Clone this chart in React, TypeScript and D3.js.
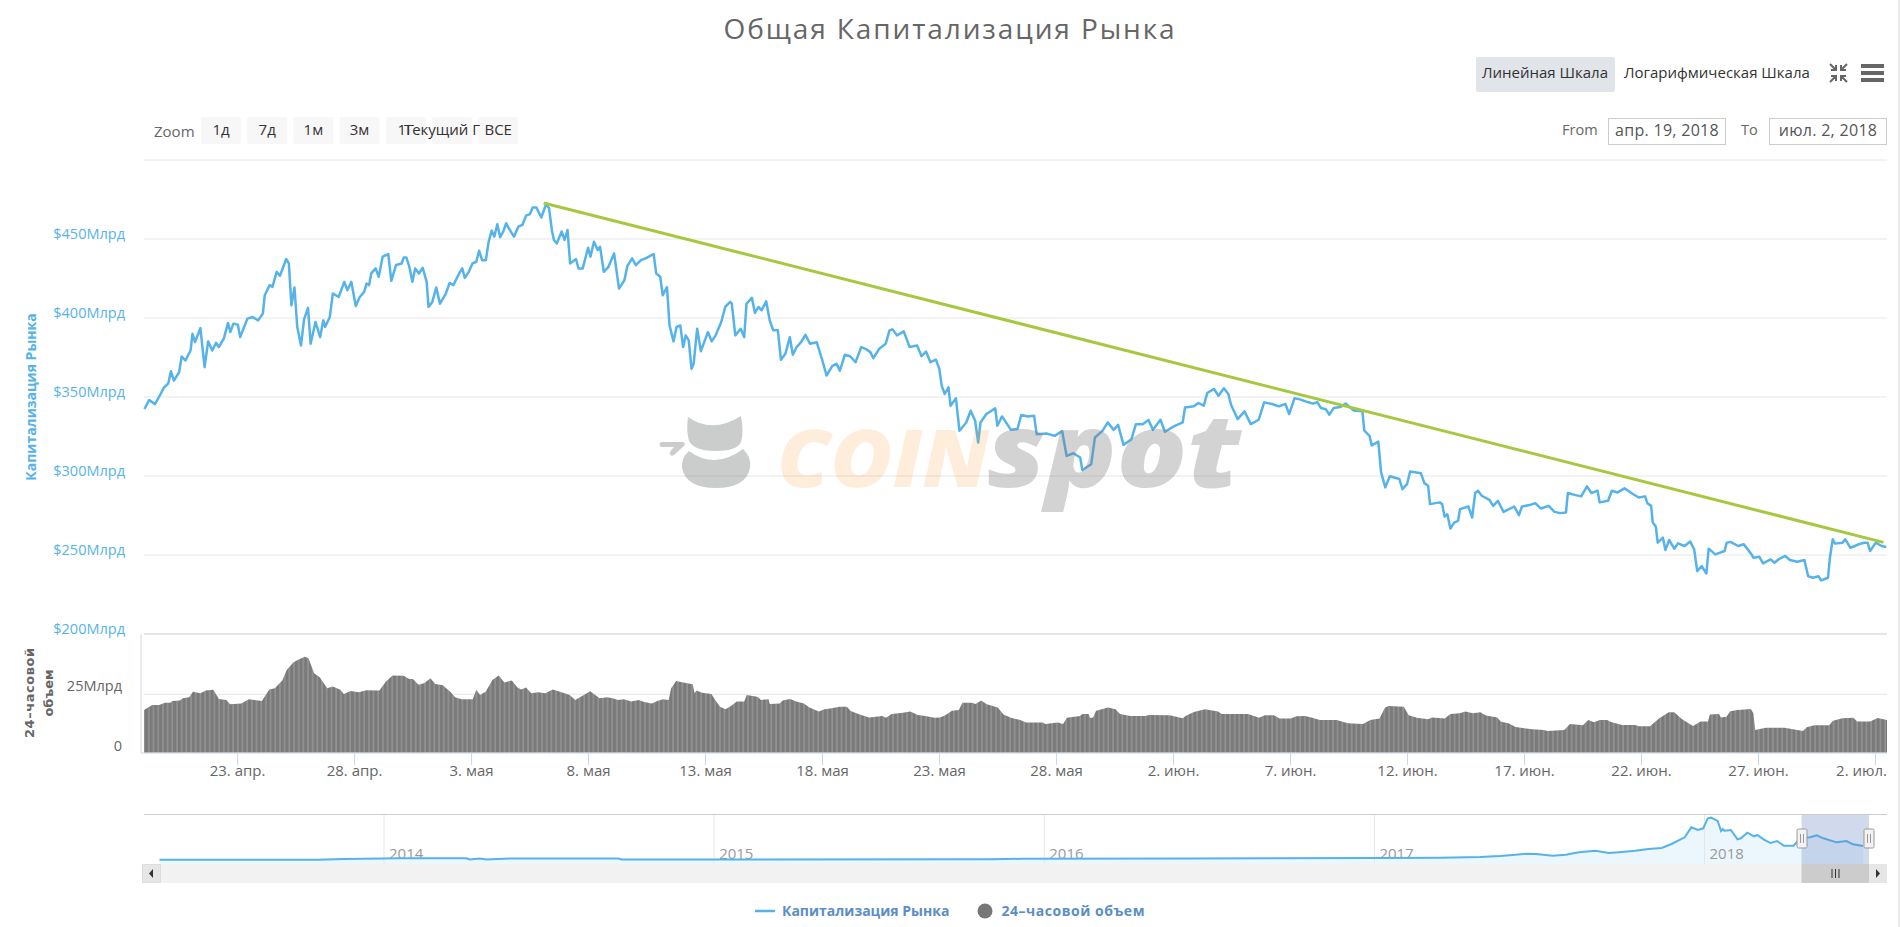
import * as d3 from "d3";

// [days since 19 Apr 2018, market cap in $bn]
const capPoints: [number, number][] = [
  [0.02,342.4],[0.22,348.1],[0.47,345.5],[0.71,351.9],[0.84,355.7],[1.04,358.7],[1.15,366.3],[1.28,360.4],[1.5,365.7],[1.61,375.6],
  [1.77,373.1],[1.99,379.4],[2.07,390],[2.18,384.7],[2.41,393.6],[2.59,368.9],[2.74,385.2],[2.92,379.4],[3.08,384.3],[3.2,381.6],
  [3.41,386.9],[3.59,396.8],[3.69,391.1],[3.82,396.4],[4.01,395.8],[4.11,387.9],[4.28,394.3],[4.42,399.6],[4.64,400.6],[4.88,398.5],
  [5.08,402.8],[5.16,414.4],[5.37,420.8],[5.49,419.7],[5.67,429.2],[5.81,426.7],[6.08,437.3],[6.19,434.5],[6.3,408],[6.43,419.3],
  [6.55,394.3],[6.71,382.6],[6.84,399.1],[7.01,406.4],[7.12,383.7],[7.33,397.5],[7.53,387.9],[7.66,398.5],[7.74,394.3],[7.94,400.6],
  [8.07,415.5],[8.32,413.3],[8.56,422.9],[8.69,417.6],[8.86,422.9],[9.05,407.6],[9.22,413.3],[9.41,416.5],[9.51,421.8],[9.62,420.8],
  [9.71,428.2],[9.9,431.4],[10.03,426.1],[10.2,438.8],[10.44,440.5],[10.57,423.5],[10.77,433.5],[11.01,434.5],[11.1,438.3],[11.21,438.3],
  [11.34,432.4],[11.47,422.9],[11.59,431.4],[11.75,428.2],[11.91,431.8],[12.08,422.9],[12.16,407],[12.32,410.2],[12.49,419.3],[12.65,409.1],
  [12.9,415.5],[13.06,422.2],[13.22,420.8],[13.47,428.2],[13.6,431.4],[13.71,425.4],[13.88,429.2],[14.04,434.5],[14.2,435.6],[14.32,442.6],
  [14.45,436.6],[14.61,436.6],[14.73,448.3],[14.86,455.3],[14.97,451.5],[15.1,459.3],[15.22,451.1],[15.35,454.7],[15.48,460],[15.59,456.8],
  [15.81,451.5],[16,457.8],[16.17,458.9],[16.33,464.8],[16.49,465.7],[16.61,469.9],[16.77,469.9],[16.98,463.6],[17.18,472],[17.31,469.5],
  [17.44,454.7],[17.52,449.4],[17.64,447.2],[17.85,454.7],[17.97,449.4],[18.1,455.7],[18.21,434.5],[18.46,437.3],[18.57,431.4],[18.75,431.4],
  [18.98,444.5],[19.08,438.8],[19.23,448.3],[19.39,443],[19.49,445.1],[19.65,429.2],[19.85,432.4],[20.09,440.9],[20.3,418.6],[20.53,423.9],
  [20.66,433],[20.86,437.7],[21.02,433.5],[21.24,436.6],[21.48,438.1],[21.78,440.5],[21.89,428.2],[22.06,426.1],[22.17,414.4],[22.35,419.5],
  [22.46,395.3],[22.63,385.2],[22.76,394.3],[22.92,395.3],[23.04,381.6],[23.15,389],[23.28,385.8],[23.4,367.8],[23.49,371],[23.64,393.2],
  [23.8,379],[24.1,391.1],[24.26,385.2],[24.43,389],[24.67,397.5],[24.84,407],[25.05,410.2],[25.12,409.1],[25.27,389],[25.5,393.2],
  [25.65,387.9],[25.75,409.1],[25.98,412.7],[26.11,403.2],[26.26,407],[26.4,404.9],[26.59,410.6],[26.74,398.5],[26.89,392.2],[27.09,392.2],
  [27.22,373.5],[27.41,377.3],[27.6,387.9],[27.73,376.7],[27.89,381.6],[28.08,384.7],[28.27,389.4],[28.46,383.7],[28.75,384.7],[28.97,374.2],
  [29.17,363.6],[29.41,369.5],[29.6,371],[29.74,366.7],[29.95,376.7],[30.18,375.8],[30.41,372],[30.65,381.6],[30.88,380.1],[31.04,378.4],
  [31.17,374.6],[31.42,380.5],[31.7,383.7],[31.86,392.2],[31.99,392.8],[32.18,389],[32.47,391.5],[32.72,381.6],[33.04,382.6],[33.23,375.8],
  [33.42,378.8],[33.61,372],[33.84,373.7],[33.99,367.8],[34.09,357.2],[34.22,351.9],[34.38,356.1],[34.47,344.5],[34.7,349.2],[34.85,328.6],
  [35.14,333.9],[35.33,341.3],[35.52,335],[35.65,321.2],[35.75,333.9],[36,339.2],[36.38,342.8],[36.47,331.8],[36.67,337.7],[37.05,329.2],
  [37.33,329.7],[37.49,338.6],[37.77,337.7],[38.04,338.1],[38.15,326.5],[38.57,326.9],[38.92,325.4],[39.24,328.4],[39.43,312.7],[39.72,314.4],
  [40.01,311.7],[40.1,303.8],[40.48,307.4],[40.64,324.4],[40.96,328.6],[41.19,333.9],[41.44,329.2],[41.63,332.4],[41.86,319.7],[42.2,323.3],
  [42.39,332.8],[42.68,332.8],[42.93,335.4],[43.12,329.2],[43.44,335.6],[43.63,328],[44.01,331.4],[44.39,333.9],[44.49,343.4],[44.87,344.1],
  [45.06,346.2],[45.29,344.5],[45.44,352.5],[45.73,355.1],[45.92,350.8],[46.15,355.5],[46.34,351.9],[46.46,344.9],[46.74,336],[47.03,340.9],
  [47.3,332.8],[47.64,335.6],[47.87,346.6],[48.21,345.6],[48.5,344.1],[48.78,345.6],[48.94,339.2],[49.17,349.2],[49.4,348.5],[49.73,346.8],
  [49.97,345.8],[50.14,346.8],[50.3,343],[50.51,342.2],[50.66,338.8],[50.84,343],[51.12,343.6],[51.36,345.8],[51.69,341.5],[52.07,340.9],
  [52.15,328.8],[52.38,325.2],[52.47,319.3],[52.75,321.8],[52.87,302.3],[53.05,292.8],[53.24,299.8],[53.65,298.1],[53.78,291.7],[53.98,294.9],
  [54.11,302.8],[54.57,301.7],[54.72,295.5],[54.88,293.8],[54.96,282.2],[55.37,283.3],[55.48,282.2],[55.58,274.4],[55.7,275.8],[55.83,266.7],
  [55.99,270.5],[56.16,271.6],[56.24,279],[56.6,280.7],[56.76,273.7],[56.89,289.2],[57.01,290.6],[57.17,287.5],[57.5,284.9],[57.66,281.1],
  [57.86,284.3],[58.1,277.3],[58.56,280.7],[58.76,275.2],[58.89,280.7],[59.21,281.6],[59.46,282.8],[59.7,279.4],[60.03,281.1],[60.28,277.3],
  [60.52,276.5],[60.77,276.9],[60.85,289.2],[61.18,287.9],[61.42,287.1],[61.67,293.4],[61.86,289.2],[62.12,290.7],[62.21,283.3],[62.57,284.3],
  [62.73,290.7],[62.98,289.6],[63.27,292.2],[63.63,288.6],[63.88,286.4],[64.15,287.1],[64.25,282.8],[64.41,281.1],[64.48,270.5],[64.61,268],
  [64.69,257.8],[64.91,261],[65.02,253.2],[65.18,259.5],[65.4,254],[65.56,257.4],[65.84,255.7],[66.08,258.5],[66.25,253.6],[66.38,239.8],
  [66.57,243],[66.77,238.3],[66.87,254],[67.15,250.4],[67.55,252.5],[67.64,257.8],[67.8,258.3],[68.13,255.7],[68.37,256.8],[68.7,250.4],
  [68.78,248.3],[69.03,248.9],[69.19,244.7],[69.52,247.2],[69.68,245.1],[69.85,247.2],[70.14,249.4],[70.34,246.8],[70.66,245.7],[70.96,246.8],
  [71.12,236.6],[71.32,235.6],[71.56,236.6],[71.68,233.9],[71.97,235.6],[72.05,248.3],[72.17,259.9],[72.27,257.2],[72.59,257.8],[72.71,259.9],
  [72.92,254.6],[73.12,255.7],[73.28,256.8],[73.52,257.8],[73.66,257.8],[73.77,252.5],[74.01,257.8],[74.26,255.7],[74.46,255.1],
];

// [days since 19 Apr 2018, 24h volume in $bn]
const volPoints: [number, number][] = [
  [0,18.3],[0.17,19.4],[0.36,20.4],[0.65,20.4],[0.89,21.4],[1.13,21.4],[1.21,22.1],[1.53,22.3],[1.66,23.3],[1.93,23.7],
  [2.09,26.1],[2.41,25.4],[2.64,26.6],[2.96,26.9],[3.2,23],[3.52,22.6],[3.68,20.7],[4.16,21.1],[4.48,22.9],[5.04,22.1],
  [5.2,24.7],[5.36,27.1],[5.59,27.6],[5.91,30.9],[6.1,35.4],[6.39,38.7],[6.63,40],[6.87,41.1],[7.03,40.4],[7.27,34],
  [7.51,32.3],[7.83,27.6],[8.07,28.3],[8.39,26.9],[8.54,25.1],[8.83,26.4],[9.18,25.9],[9.5,26.7],[10.06,26.6],[10.33,30.4],
  [10.62,33.1],[11.1,32.9],[11.33,31.6],[11.49,31.6],[11.73,29.1],[11.97,29.7],[12.24,31.9],[12.45,29.4],[12.77,28.9],[13.09,26.1],
  [13.3,23.7],[13.57,22.9],[14.05,22.9],[14.2,26.9],[14.36,24.7],[14.6,26.1],[14.89,31.1],[15.16,33],[15.4,30.1],[15.72,30.9],
  [15.96,27.9],[16.12,27.1],[16.33,27.9],[16.55,25.4],[16.84,25.9],[17.15,25.4],[17.47,27.1],[17.71,26.3],[18.19,24.7],[18.43,22.6],
  [18.67,24],[19.07,26.3],[19.47,23.3],[19.79,23.7],[20.02,23.3],[20.26,22.6],[20.5,22.9],[20.82,21.9],[21.14,22.6],[21.38,21.7],
  [21.7,21.1],[21.94,22.1],[22.18,22.9],[22.42,22.6],[22.53,27.6],[22.74,30.7],[23.05,30.1],[23.45,29.3],[23.53,25.4],[23.61,26.6],
  [23.85,25.7],[24.25,25.1],[24.41,22.6],[24.62,19.7],[24.85,18.6],[25.09,20],[25.33,21.9],[25.65,21.9],[25.76,24.7],[26.21,24],
  [26.37,22.6],[26.69,22.9],[26.74,20.9],[27.17,21.1],[27.29,22.3],[27.61,23],[27.88,21.9],[28.2,21.1],[28.44,19.4],[28.84,17.6],
  [29.08,18.6],[29.4,19],[29.72,19.7],[30.04,19.7],[30.2,17.9],[30.59,16.4],[30.99,15.1],[31.55,15.7],[31.71,15],[31.95,16.6],
  [32.43,17.1],[32.75,17.6],[33.07,16.1],[33.39,15.7],[33.78,15],[34.02,15.1],[34.26,16.1],[34.53,18],[34.82,18.3],[34.98,21.4],
  [35.38,21.4],[35.54,20.9],[35.78,22.3],[36.02,20.7],[36.49,19.4],[36.73,16.4],[37.05,15],[37.45,14],[37.69,12.9],[38.41,12.9],
  [38.52,12.3],[39.05,12.9],[39.28,12.3],[39.44,15],[40,15.7],[40.11,16.6],[40.37,16.6],[40.43,14.9],[40.56,15.1],[40.69,18],
  [41.2,19.3],[41.52,18.6],[41.71,16.6],[42.16,15.7],[42.79,15.7],[42.95,16.1],[43.83,16],[44.39,14.7],[44.55,15.9],[44.87,17.4],
  [45.34,18.6],[45.9,17.6],[46.06,16.6],[47.18,16.6],[47.66,15],[47.9,16],[48.29,16],[48.53,14.6],[49.01,14.6],[49.25,15.6],
  [49.62,15.7],[49.93,15],[50.25,14],[50.97,14],[51.45,12.6],[52.09,12.3],[52.41,14],[52.8,14.6],[53.04,19.4],[53.2,20],
  [53.84,19.7],[54.05,16],[54.4,15],[54.88,14.3],[55.04,15.1],[55.59,14.6],[55.83,16.6],[56.23,16.9],[56.47,17.6],[56.79,16.9],
  [57.11,17.3],[57.35,15.9],[57.83,15.1],[57.99,13.3],[58.31,12.6],[58.62,11],[59.34,10],[59.82,9.7],[59.98,9.3],[60.7,9.7],
  [60.94,12.3],[61.49,11.7],[61.73,14],[61.97,13],[62.21,14],[62.53,14],[62.69,13.1],[63.17,11.9],[63.73,11.9],[63.89,11.3],
  [64.36,11.3],[64.76,14.7],[65.16,17.3],[65.4,17.3],[65.72,14.4],[66.2,11.4],[66.52,13.4],[66.84,13.4],[66.92,16.3],[67.31,16.6],
  [67.39,15.1],[67.63,15.4],[67.79,17.7],[68.11,18.3],[68.67,18.7],[68.78,16.9],[68.86,9.7],[69.31,10.7],[70.11,10.7],[70.9,9.3],
  [71.06,10.9],[71.38,11.7],[72.02,11.7],[72.18,13.7],[72.58,14.7],[73.05,15],[73.21,13.4],[73.77,13.4],[74.09,14.9],[74.49,14],
];

// navigator series: [year, market cap in $bn]
const navPoints: [number, number][] = [
  [2013.32,3],[2013.8,6],[2013.88,19],[2014.05,33],[2014.25,33],[2014.26,10],[2014.29,29],[2014.31,10],[2014.38,29],[2014.71,29],
  [2014.72,10],[2015.84,13],[2015.93,23],[2016.45,27],[2017,39],[2017.2,44],[2017.32,58],[2017.38,77],[2017.42,97],[2017.46,122],
  [2017.49,116],[2017.54,84],[2017.58,103],[2017.62,148],[2017.67,180],[2017.71,135],[2017.75,155],[2017.79,180],[2017.83,213],[2017.87,232],
  [2017.9,309],[2017.94,438],[2017.96,631],[2017.98,580],[2017.996,612],[2018.01,805],[2018.02,818],[2018.04,754],[2018.05,560],[2018.055,599],
  [2018.06,567],[2018.08,580],[2018.1,399],[2018.11,419],[2018.13,528],[2018.15,457],[2018.16,483],[2018.18,393],[2018.2,328],[2018.22,367],
  [2018.24,277],[2018.27,277],[2018.29,419],[2018.32,438],[2018.34,477],[2018.36,419],[2018.4,341],[2018.43,367],[2018.45,303],[2018.48,270],
];

const trendPoints: [number, number][] = [[17.08, 472.8], [74.34, 258]];

const capTicks = [500, 450, 400, 350, 300, 250, 200];
const volTicks = [25, 0];
const dayTicks = [4, 9, 14, 19, 24, 29, 34, 39, 44, 49, 54, 59, 64, 69, 74];
const dayLabels = ["23. апр.", "28. апр.", "3. мая", "8. мая", "13. мая", "18. мая", "23. мая", "28. мая", "2. июн.", "7. июн.", "12. июн.", "17. июн.", "22. июн.", "27. июн.", "2. июл."];
const navYears = [2014, 2015, 2016, 2017, 2018];
const zoomLabels = ["1д", "7д", "1м", "3м", "1Г", "Текущий Г", "ВСЕ"];

const FONT = "'Open Sans', sans-serif";
const BLUE = "#55b3e9";
const LEFT = 144;
const RIGHT = 1887;

const x = d3.scaleLinear().domain([0, 74.49]).range([LEFT, RIGHT]);
const yCap = d3.scaleLinear().domain([200, 500]).range([634, 160]);
const yVol = d3.scaleLinear().domain([0, 25]).range([752.7, 694.3]);
const xNav = d3.scaleLinear().domain([2014, 2018]).range([384, 1704.5]);
const yNav = d3.scaleLinear().domain([0, 850]).range([860, 816]);

const capLine = d3.line<[number, number]>().x((d) => x(d[0])).y((d) => yCap(d[1]));
const volArea = d3.area<[number, number]>().x((d) => x(d[0])).y0(yVol(0)).y1((d) => yVol(d[1]));
const navLine = d3.line<[number, number]>().x((d) => xNav(d[0])).y((d) => yNav(d[1]));
const navArea = d3.area<[number, number]>().x((d) => xNav(d[0])).y0(864).y1((d) => yNav(d[1]));

const Handle = ({ cx }: { cx: number }) => (
  <g>
    <rect x={cx - 5} y={829} width={10} height={19} rx={1.5} fill="#f2f2f2" stroke="#999" strokeWidth={1} />
    <path d={`M${cx - 1.5} 834V843M${cx + 1.5} 834V843`} stroke="#999" strokeWidth={1} />
  </g>
);

export default function App() {
  return (
    <svg width={1900} height={927} style={{ position: "absolute", left: 0, top: 0, display: "block", fontFamily: FONT }}>
      <defs>
        <pattern id="volStripes" patternUnits="userSpaceOnUse" width={4.68} height={10}>
          <rect width={4.68} height={10} fill="#7a7a7a" />
          <rect x={3} width={1.68} height={10} fill="#929292" />
        </pattern>
      </defs>
      <rect width={1900} height={927} fill="#fff" />
      <rect x={1898} width={2} height={927} fill="#ececec" />

      <text x={950} y={39} textAnchor="middle" fontSize={28} letterSpacing={1.9} fill="#666">Общая Капитализация Рынка</text>

      {/* scale switch + icons */}
      <rect x={1476} y={57} width={139} height={35} rx={2} fill="#e1e4e9" />
      <text x={1482} y={78} fontSize={15} fill="#333">Линейная Шкала</text>
      <text x={1624} y={78} fontSize={15} fill="#333">Логарифмическая Шкала</text>
      <path d="M1830 64L1836 70M1836 65V70H1831M1847 64L1841 70M1841 65V70H1846M1830 82L1836 76M1836 81V76H1831M1847 82L1841 76M1841 81V76H1846" stroke="#666" strokeWidth={2} fill="none" />
      <path d="M1861 64h23v4h-23zM1861 71h23v4h-23zM1861 78h23v4h-23z" fill="#666" />

      {/* range selector */}
      <text x={154} y={137} fontSize={15} fill="#666">Zoom</text>
      {zoomLabels.map((d, i) => (
        <rect key={d} x={201 + i * 46.2} y={117} width={40} height={27} rx={2} fill="#f7f7f7" />
      ))}
      {zoomLabels.map((d, i) => (
        <text key={d} x={d === "Текущий Г" ? 442 : 221 + i * 46.2} y={135} textAnchor="middle" fontSize={15} fill="#333">{d}</text>
      ))}
      <text x={1562} y={135} fontSize={14.5} fill="#666">From</text>
      <rect x={1608.5} y={118.5} width={117} height={26} fill="#fff" stroke="#ccc" />
      <text x={1667} y={136} textAnchor="middle" fontSize={16} letterSpacing={0.3} fill="#555">апр. 19, 2018</text>
      <text x={1741} y={135} fontSize={14.5} fill="#666">To</text>
      <rect x={1769.5} y={118.5} width={117} height={26} fill="#fff" stroke="#ccc" />
      <text x={1828} y={136} textAnchor="middle" fontSize={16} letterSpacing={0.3} fill="#555">июл. 2, 2018</text>

      {/* grid */}
      {capTicks.map((t) => (
        <line key={t} x1={LEFT} x2={RIGHT} y1={yCap(t)} y2={yCap(t)} stroke="#e6e6e6" strokeWidth={t === 200 ? 2 : 1} />
      ))}
      <line x1={LEFT} x2={RIGHT} y1={yVol(25)} y2={yVol(25)} stroke="#e6e6e6" />

      {capTicks.slice(1).map((t) => (
        <text key={t} x={125} y={yCap(t)} textAnchor="end" fontSize={14.5} fill={BLUE}>{`$${t}Млрд`}</text>
      ))}
      <text transform="translate(36,397) rotate(-90)" textAnchor="middle" fontSize={14} fontWeight={700} fill={BLUE}>Капитализация Рынка</text>

      {/* volume panel */}
      <line x1={141} x2={141} y1={634} y2={753} stroke="#ccd6eb" />
      <path d={volArea(volPoints) ?? ""} fill="url(#volStripes)" />
      <line x1={141} x2={RIGHT} y1={753} y2={753} stroke="#ccd6eb" />
      {volTicks.map((t) => (
        <text key={t} x={122} y={t === 0 ? 751 : yVol(t) - 3} textAnchor="end" fontSize={14.5} fill="#666">{t === 0 ? "0" : `${t}Млрд`}</text>
      ))}
      <g transform="translate(33.5,693) rotate(-90)" fontFamily="'DejaVu Sans', sans-serif" fontSize={13} fontWeight={700} fill="#666" textAnchor="middle">
        <text textLength={90}>24–часовой</text>
        <text y={19}>объем</text>
      </g>
      {dayTicks.map((d, i) => (
        <g key={d}>
          <line x1={x(d)} x2={x(d)} y1={753} y2={765} stroke="#ccd6eb" />
          <text x={d === 74 ? RIGHT : x(d)} y={776} textAnchor={d === 74 ? "end" : "middle"} fontSize={15} fill="#666">{dayLabels[i]}</text>
        </g>
      ))}

      {/* series */}
      <path d={capLine(capPoints) ?? ""} fill="none" stroke={BLUE} strokeWidth={2.5} strokeLinejoin="round" />
      <path d={capLine(trendPoints) ?? ""} fill="none" stroke="#a5c83f" strokeWidth={3} />

      {/* watermark */}
      <g>
        <path d="M688 417Q712 434 741 416Q744 432 741 442Q737 451 716 451Q694 451 689 441Q686 430 688 417Z" fill="#70757599" fillOpacity={0.6} />
        <path d="M689 451Q715 470 743 449Q752 458 750 468Q746 488 716 488Q686 488 682 468Q681 458 689 451Z" fill="#70757599" fillOpacity={0.6} />
        <path d="M661 442H683Q686 443 684 446L674 455Q671 457 670 454Q669 452 674 447H661Q658 444 661 442Z" fill="#70757599" fillOpacity={0.6} />
        <text x={777} y={487} fontSize={80} fontWeight={800} fontStyle="italic" fill="#faa546" fillOpacity={0.2} textLength={212} lengthAdjust="spacingAndGlyphs">COIN</text>
        <text x={987} y={487} fontSize={103} fontWeight={800} fontStyle="italic" fill="#787878" fillOpacity={0.33} textLength={254} lengthAdjust="spacingAndGlyphs">spot</text>
      </g>

      {/* navigator */}
      <path d={navArea(navPoints) ?? ""} fill={BLUE} fillOpacity={0.11} />
      {navYears.map((yr) => (
        <g key={yr}>
          <line x1={xNav(yr)} x2={xNav(yr)} y1={814} y2={864} stroke="#e6e6e6" />
          <text x={xNav(yr) + 5} y={859} fontSize={15} fill="#999">{yr}</text>
        </g>
      ))}
      <path d={navLine(navPoints) ?? ""} fill="none" stroke={BLUE} strokeWidth={2} />
      <line x1={LEFT} x2={RIGHT} y1={814.5} y2={814.5} stroke="#ccc" />
      <rect x={1801.5} y={815} width={67.5} height={49} fill="#6685c2" fillOpacity={0.3} />

      {/* scrollbar */}
      <rect x={142} y={864} width={1745} height={19} fill="#f2f2f2" />
      <rect x={142.5} y={864.5} width={18} height={18} fill="#e6e6e6" stroke="#ddd" />
      <path d="M153 869L149 873.5L153 878Z" fill="#333" />
      <rect x={1801.5} y={864} width={67.5} height={19} fill="#ccc" />
      <path d="M1832 869V878M1835.5 869V878M1839 869V878" stroke="#333" />
      <rect x={1869} y={864} width={18} height={19} fill="#e6e6e6" />
      <path d="M1876 869L1880 873.5L1876 878Z" fill="#333" />
      <Handle cx={1802} />
      <Handle cx={1869} />

      {/* legend */}
      <line x1={755} x2={775} y1={911} y2={911} stroke={BLUE} strokeWidth={2.5} />
      <text x={782} y={916} fontSize={14} fontWeight={700} fill="#5b8ec6">Капитализация Рынка</text>
      <circle cx={985} cy={911} r={7.5} fill="#777" />
      <text x={1001.5} y={916} fontSize={14} fontWeight={700} fill="#5b8ec6" textLength={143}>24–часовой объем</text>
    </svg>
  );
}
